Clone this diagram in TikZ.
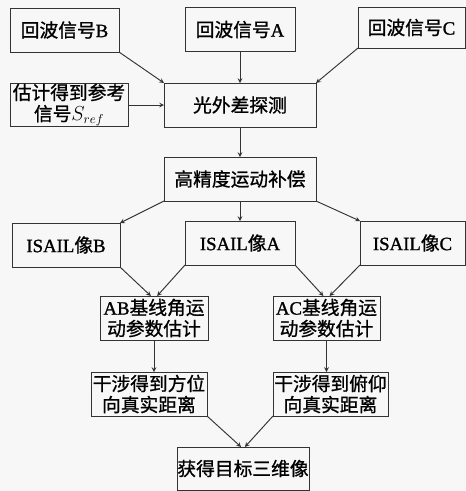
\documentclass[tikz,border=0pt]{standalone}
\usepackage{fontspec}
\setmainfont{Noto Sans CJK SC}[FakeBold=1]
\newfontfamily\lat{Liberation Serif}[FakeBold=1.2]
\begin{document}
\begin{tikzpicture}[x=0.03cm,y=-0.03cm]
	\tikzstyle{block} = [rectangle, draw=black!80, thick, align=center, inner sep=0pt, outer sep=0pt, minimum height=1.32cm, font=\fontsize{16}{18}\selectfont]
	\tikzstyle{line} = [draw=black!80, thick, ->, >=stealth]
	\fill[gray!6] (0,0) rectangle (466,491);
	% inputs
	\node [block, minimum width=3.27cm] (B) at (64.5,30) {回波信号{\lat B}};
	\node [block, minimum width=3.3cm] (A) at (240,29.5) {回波信号{\lat A}};
	\node [block, minimum width=3.21cm, minimum height=1.23cm] (C) at (411.5,27.5) {回波信号{\lat C}};
	\node [block, minimum width=3.54cm, minimum height=1.26cm] (est) at (69,105) {估计得到参考\\信号$S_{ref}$};
	\node [block, minimum width=4.56cm] (det) at (240,105) {光外差探测};
	\node [block, minimum width=4.56cm] (mc) at (240,179) {高精度运动补偿};
	% images
	\node [block, minimum width=3.24cm] (IB) at (66,245) {{\lat ISAIL}像{\lat B}};
	\node [block, minimum width=3.3cm] (IA) at (240,243) {{\lat ISAIL}像{\lat A}};
	\node [block, minimum width=3.15cm] (IC) at (412.5,243) {{\lat ISAIL}像{\lat C}};
	% baselines
	\node [block, minimum width=3.24cm] (AB) at (154,318) {{\lat AB}基线角运\\动参数估计};
	\node [block, minimum width=3.21cm] (AC) at (326.5,318) {{\lat AC}基线角运\\动参数估计};
	\node [block, minimum width=3.48cm] (az) at (149,394) {干涉得到方位\\向真实距离};
	\node [block, minimum width=3.45cm] (el) at (330.5,394) {干涉得到俯仰\\向真实距离};
	\node [block, minimum width=3.96cm, minimum height=1.29cm] (res) at (243,468.5) {获得目标三维像};
	% connections
	\draw [line] (B.south east) -- (det.north west);
	\draw [line] (A) -- (det);
	\draw [line] (C.south west) -- (det.north east);
	\draw [line] (est) -- (det);
	\draw [line] (det) -- (mc);
	\draw [line] (mc.south west) -- (IB.north east);
	\draw [line] (mc) -- (IA);
	\draw [line] (mc.south east) -- (IC.north west);
	\draw [line] (IB.south east) -- (AB.98);
	\draw [line] (IA.south west) -- (AB.82);
	\draw [line] (IA.south east) -- (AC.98);
	\draw [line] (IC.south west) -- (AC.82);
	\draw [line] (AB) -- (AB |- az.north);
	\draw [line] (AC) -- (AC |- el.north);
	\draw [line] (az.south east) -- (res.95);
	\draw [line] (el.south west) -- (res.85);
\end{tikzpicture}
\end{document}
